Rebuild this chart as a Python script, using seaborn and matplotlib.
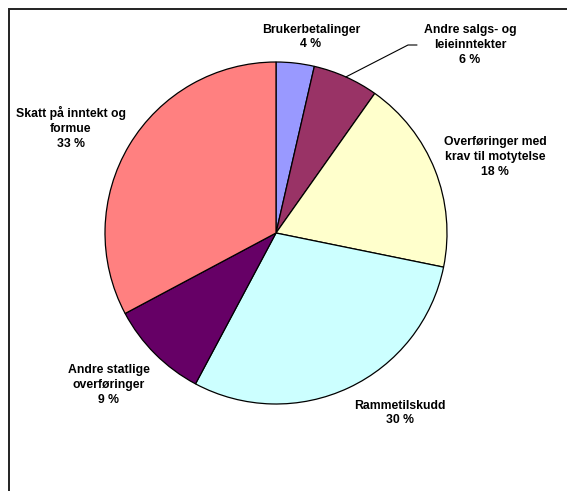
import numpy as np
import matplotlib
matplotlib.use("Agg")
import matplotlib.pyplot as plt
import matplotlib.patches as patches
import seaborn as sns

# data
categories = ["Brukerbetalinger", "Andre salgs- og\nleieinntekter",
              "Overføringer med\nkrav til motytelse", "Rammetilskudd",
              "Andre statlige\noverføringer", "Skatt på inntekt og\nformue"]
shares = [3.6, 6.2, 18.4, 29.6, 9.4, 32.8]
colors = ["#9999FF", "#993366", "#FFFFCC", "#CCFFFF", "#660066", "#FF8080"]

# label centre positions (pixels from top-left)
label_pos = [(311, 37), (470, 45), (495, 157), (400, 413), (109, 385), (71, 128)]

sns.set_theme(style="white")
plt.rcParams['font.family'] = ['Liberation Sans', 'DejaVu Sans']

W, H = 567, 491
fig = plt.figure(figsize=(W / 100, H / 100), dpi=100)
ax = fig.add_axes([0, 0, 1, 1])

cx, cy, r = 276, H - 233, 171
wedges, _ = ax.pie(shares, colors=colors, startangle=90, counterclock=False,
                   center=(cx, cy), radius=r, frame=True,
                   wedgeprops=dict(edgecolor="black", linewidth=0.9))
ax.set_xlim(0, W)
ax.set_ylim(0, H)
ax.set_aspect("equal")
ax.axis("off")

for cat, v, (x, y) in zip(categories, shares, label_pos):
    ax.text(x, H - y, f"{cat}\n{round(v)} %", ha="center", va="center",
            fontsize=8.8, fontweight="bold", linespacing=1.3, color="black")

# leader line for the small slice
w = wedges[1]
mid = np.deg2rad((w.theta1 + w.theta2) / 2)
x0, y0 = cx + r * np.cos(mid), cy + r * np.sin(mid)
ax.plot([x0, 408, 417], [y0, H - 45, H - 45], color="black", lw=0.8)

# chart frame (only top and left visible)
fig.add_artist(patches.Rectangle((9 / W, -0.1), 1.0, (H - 9) / H + 0.1,
                                 transform=fig.transFigure, fill=False,
                                 edgecolor="#222222", linewidth=1.4))

fig.savefig("out.png", dpi=100)
